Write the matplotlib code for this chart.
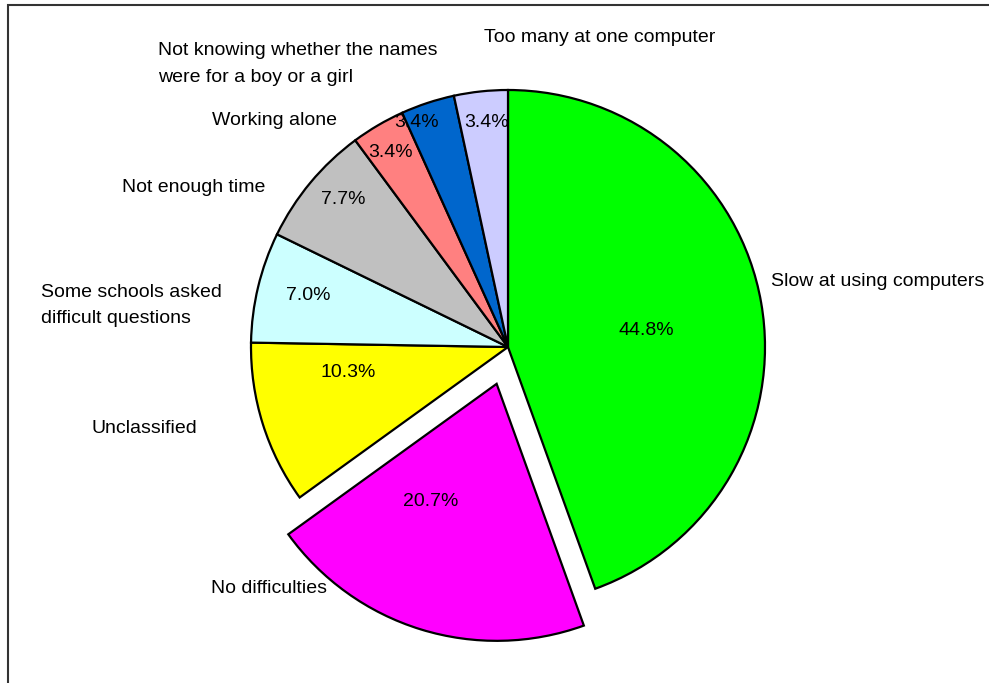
import matplotlib
matplotlib.use("Agg")
import matplotlib.pyplot as plt
from matplotlib.patches import Rectangle

# Difficulties reported, share of responses (%)
categories = [
    "Slow at using computers",
    "No difficulties",
    "Unclassified",
    "Some schools asked\ndifficult questions",
    "Not enough time",
    "Working alone",
    "Not knowing whether the names\nwere for a boy or a girl",
    "Too many at one computer",
]
shares = [44.8, 20.7, 10.3, 7.0, 7.7, 3.4, 3.4, 3.4]
colors = ["#00FF00", "#FF00FF", "#FFFF00", "#CCFFFF",
          "#C0C0C0", "#FF8080", "#0066CC", "#CCCCFF"]
explode = [0, 0.15, 0, 0, 0, 0, 0, 0]

# Label placement (pie radius = 1, pie centre at origin)
name_pos = [(1.023, 0.253, "left"), (-0.704, -0.938, "right"),
            (-1.210, -0.319, "right"), (-1.817, 0.163, "left"),
            (-0.946, 0.619, "right"), (-0.665, 0.883, "right"),
            (-1.362, 1.101, "left"), (-0.093, 1.206, "left")]
pct_pos = [(0.537, 0.066), (-0.300, -0.603), (-0.623, -0.101),
           (-0.778, 0.202), (-0.642, 0.572), (-0.459, 0.755),
           (-0.354, 0.872), (-0.082, 0.872)]

plt.rcParams["font.family"] = ["Liberation Sans", "DejaVu Sans"]
W, H = 989, 683
fig = plt.figure(figsize=(W / 100, H / 100), dpi=100)
fig.patch.set_facecolor("white")
ax = fig.add_axes([0, 0, 1, 1])

ax.pie(shares, colors=colors, explode=explode, startangle=90,
       counterclock=False, radius=1.0, normalize=True,
       wedgeprops=dict(edgecolor="black", linewidth=1.6))

fs = 14
for name, (x, y, ha) in zip(categories, name_pos):
    ax.text(x, y, name, ha=ha, va="center", fontsize=fs,
            linespacing=1.7, color="black")
for val, (x, y) in zip(shares, pct_pos):
    ax.text(x, y, f"{val:.1f}%", ha="center", va="center",
            fontsize=fs, color="black")

cx, cy, r = 508, 347, 257
ax.set_xlim(-cx / r, (W - cx) / r)
ax.set_ylim(-(H - cy) / r, cy / r)
ax.set_aspect("auto")
ax.axis("off")

# Chart-area frame (runs past the right and bottom edges)
fig.patches.append(Rectangle((8 / W, -0.2), 1.2, 1.2 - 5 / H,
                             transform=fig.transFigure, fill=False,
                             edgecolor="#333333", linewidth=1.5))

fig.savefig("out.png", dpi=100)
